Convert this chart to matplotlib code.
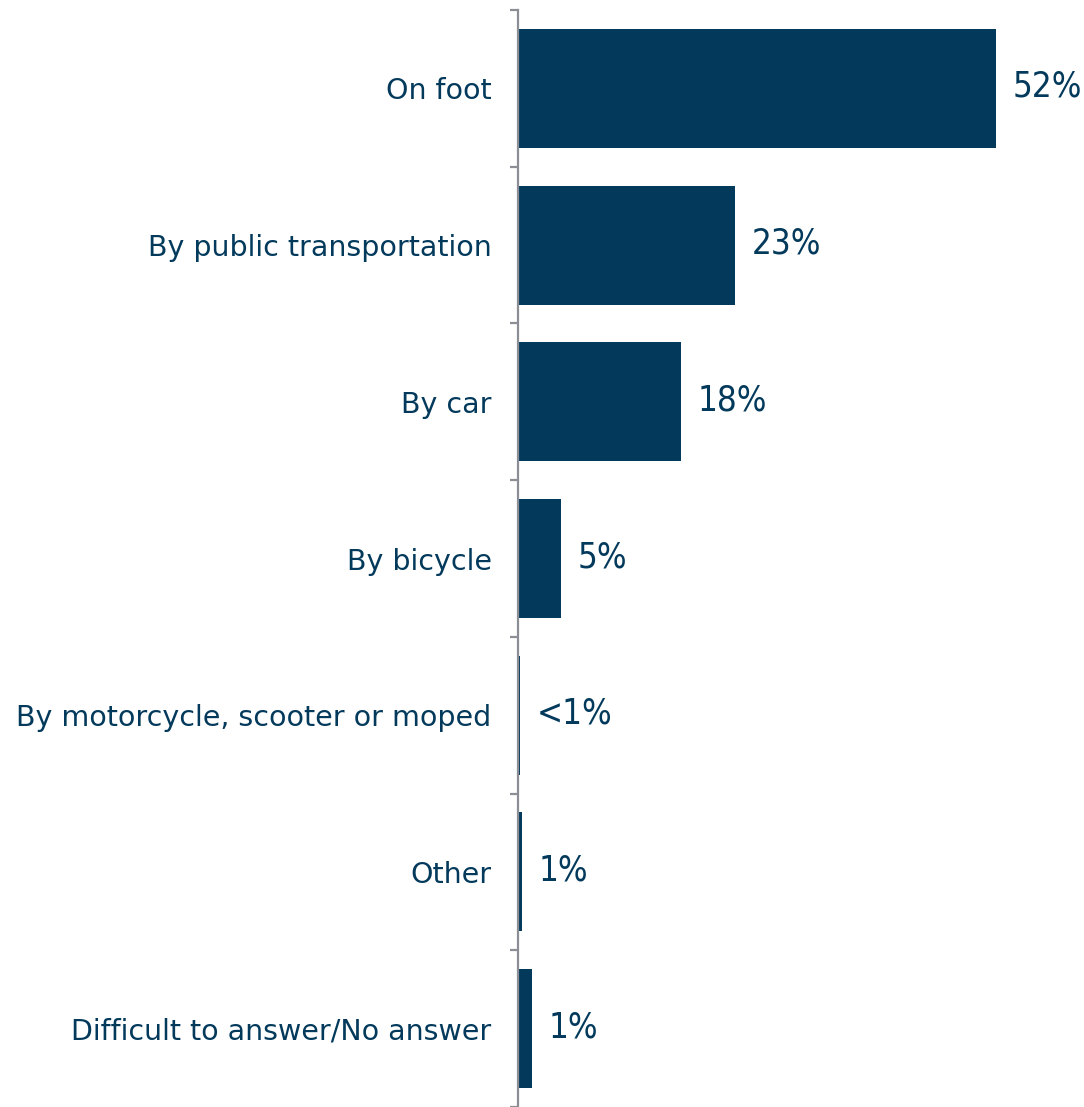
import matplotlib
matplotlib.use("Agg")
import matplotlib.pyplot as plt
import numpy as np

categories = ["On foot", "By public transportation", "By car", "By bicycle",
              "By motorcycle, scooter or moped", "Other", "Difficult to answer/No answer"]
values = [52, 23.6, 17.7, 4.7, 0.2, 0.45, 1.5]
labels = ["52%", "23%", "18%", "5%", "<1%", "1%", "1%"]

navy = "#033A5C"
grey = "#8C8E96"

fig = plt.figure(figsize=(10.84, 11.07), dpi=100)
ax = fig.add_axes([518 / 1084, 0.0, 1 - 518 / 1084 - 0.01, 1 - 10 / 1107])

y = np.arange(len(categories))
ax.barh(y, values, height=0.76, color=navy, zorder=2)
ax.set_ylim(len(categories) - 0.5, -0.5)
ax.set_xlim(0, 60.4)

for yi, v, lab in zip(y, values, labels):
    ax.annotate(lab, (v, yi), xytext=(12, 1), textcoords="offset points",
                ha="left", va="center", fontsize=25, color=navy,
                family="DejaVu Sans", fontstretch="condensed", annotation_clip=False)

# boundaries as major ticks, names on minor ticks
ax.set_yticks(np.arange(-0.5, len(categories) + 0.5, 1))
ax.set_yticklabels([])
ax.set_yticks(y, minor=True)
ax.set_yticklabels(categories, minor=True, fontsize=20.5, color=navy,
                   family="DejaVu Sans")
ax.tick_params(axis="y", which="major", length=6, width=1.6, color=grey, direction="out")
ax.tick_params(axis="y", which="minor", length=0, pad=19)

ax.set_xticks([])
for s in ["top", "right", "bottom"]:
    ax.spines[s].set_visible(False)
ax.spines["left"].set_color(grey)
ax.spines["left"].set_linewidth(1.6)

fig.savefig("out.png", dpi=100)
